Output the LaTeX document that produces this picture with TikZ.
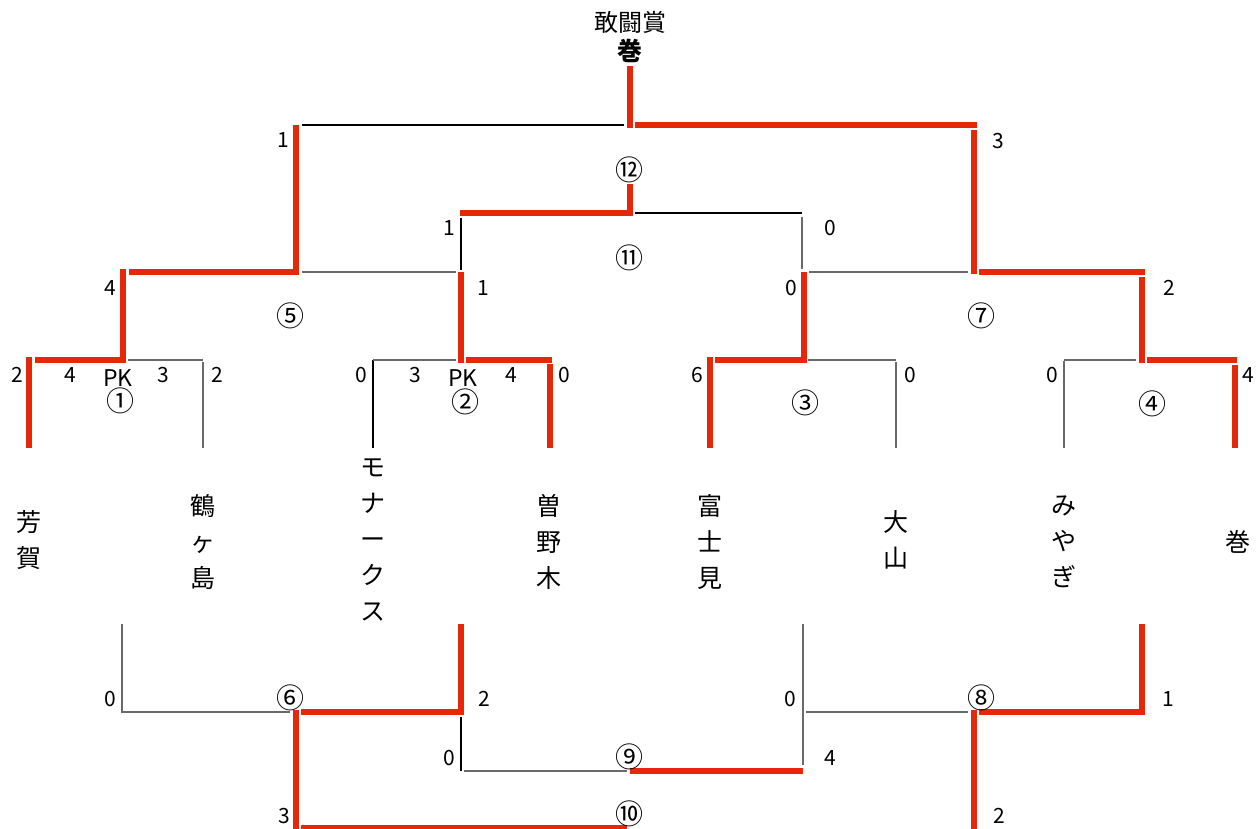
\documentclass[tikz,border=0pt]{standalone}
\usepackage{fontspec}
\setmainfont{Noto Sans CJK JP}
\definecolor{bred}{RGB}{232,38,10}
\definecolor{tgray}{RGB}{105,105,105}
\tikzset{
  win/.style={draw=bred,line width=6pt},
  thg/.style={draw=tgray,line width=1.4pt},
  thb/.style={draw=black,line width=1.2pt},
  sc/.style={font=\fontsize{21}{24}\selectfont,inner sep=0pt},
  pk/.style={font=\fontsize{23}{24}\selectfont,inner sep=0pt},
  mno/.style={font=\fontsize{28}{30}\selectfont,inner sep=0pt},
  team/.style={font=\fontsize{25}{36}\selectfont,align=center,inner sep=0pt},
}
\begin{document}
\begin{tikzpicture}[x=1pt,y=-1pt]
\useasboundingbox (0,0) rectangle (1258,829);
% champion
\node[font=\fontsize{24}{26}\selectfont,inner sep=0pt] (award) at (630,22) {敢闘賞};
\node[font=\fontsize{25}{26}\selectfont\bfseries,inner sep=0pt] (champ) at (630,51) {巻};
% teams
\node[team] (t1) at (29,540) {芳\\賀};
\node[team] (t2) at (203,542) {鶴\\ヶ\\島};
\node[team] (t3) at (373,540) {モ\\ナ\\ー\\ク\\ス};
\node[team] (t4) at (549,542) {曽\\野\\木};
\node[team] (t5) at (710,542) {富\\士\\見};
\node[team] (t6) at (896,540) {大\\山};
\node[team] (t7) at (1064,542) {み\\や\\ぎ};
\node[team] (t8) at (1238,542) {巻};
% thin lines
\draw[thb] (302,125) -- (624,125);
\draw[thb] (635,213) -- (802,213);
\draw[thg] (802,217) -- (802,269);
\draw[thb] (461,218) -- (461,270);
\draw[thg] (302,272) -- (456,272);
\draw[thg] (809,272) -- (968,272);
\draw[thg] (128,360) -- (203,360);
\draw[thg] (203,362) -- (203,448);
\draw[thb] (373,360) -- (373,448);
\draw[thg] (373,360) -- (456,360);
\draw[thg] (808,360) -- (896,360);
\draw[thg] (896,362) -- (896,448);
\draw[thg] (1064,361) -- (1064,448);
\draw[thg] (1064,360) -- (1136,360);
\draw[thg] (122,624) -- (122,712) -- (290,712);
\draw[thb] (461,717) -- (461,771);
\draw[thg] (464,771) -- (627,771);
\draw[thg] (803,624) -- (803,765);
\draw[thg] (806,712) -- (968,712);
% winner lines
\draw[win] (630,66) -- (630,128);
\draw[win] (635,125) -- (977,125);
\draw[win] (974,130) -- (974,274);
\draw[win] (29,357) -- (29,448);
\draw[win] (35,360) -- (123,360) -- (123,269);
\draw[win] (129,272) -- (296,272) -- (296,125);
\draw[win] (461,272) -- (461,363);
\draw[win] (466,360) -- (552,360);
\draw[win] (549.5,364) -- (549.5,448);
\draw[win] (460,213.5) -- (630,213.5) -- (630,184);
\draw[win] (710,357) -- (710,448);
\draw[win] (715,360) -- (803.5,360) -- (803.5,272);
\draw[win] (979,272) -- (1145,272);
\draw[win] (1142,277) -- (1142,363);
\draw[win] (1147,360) -- (1237,360);
\draw[win] (1234.5,365) -- (1234.5,448);
\draw[win] (301,712) -- (461,712) -- (461,624);
\draw[win] (296,710) -- (296,832);
\draw[win] (301,828) -- (627,828);
\draw[win] (630,771) -- (803,771);
\draw[win] (979,712) -- (1142,712) -- (1142,624);
\draw[win] (974,710) -- (974,832);
% upper labels
\node[sc] (s1) at (283,140) {1};
\node[sc] (s2) at (998,141) {3};
\node[mno] (m12) at (629,170) {⑫};
\node[sc] (s3) at (449,228) {1};
\node[sc] (s4) at (830,228) {0};
\node[mno] (m11) at (629,258) {⑪};
\node[sc] (s5) at (110,288) {4};
\node[sc] (s6) at (483,288) {1};
\node[sc] (s7) at (791,288) {0};
\node[sc] (s8) at (1169,288) {2};
\node[mno] (m5) at (290,316) {⑤};
\node[mno] (m7) at (981,316) {⑦};
% round 1 labels
\node[sc] (a1) at (17,375) {2};
\node[sc] (a2) at (70,375) {4};
\node[pk] (a3) at (118,378) {PK};
\node[sc] (a4) at (163,375) {3};
\node[sc] (a5) at (217,375) {2};
\node[mno] (m1) at (120,401) {①};
\node[sc] (b1) at (361,375) {0};
\node[sc] (b2) at (415,375) {3};
\node[pk] (b3) at (463,378) {PK};
\node[sc] (b4) at (511,375) {4};
\node[sc] (b5) at (564,375) {0};
\node[mno] (m2) at (465,402) {②};
\node[sc] (c1) at (697,375) {6};
\node[sc] (c2) at (910,375) {0};
\node[mno] (m3) at (805,403) {③};
\node[sc] (d1) at (1052,375) {0};
\node[sc] (d2) at (1248,375) {4};
\node[mno] (m4) at (1152,404) {④};
% lower labels
\node[sc] (e1) at (110,699) {0};
\node[mno] (m6) at (290,698) {⑥};
\node[sc] (e2) at (484,699) {2};
\node[sc] (e3) at (449,758) {0};
\node[mno] (m9) at (629,757) {⑨};
\node[sc] (e4) at (284,816) {3};
\node[mno] (m10) at (629,814) {⑩};
\node[sc] (f1) at (790,699) {0};
\node[mno] (m8) at (981,698) {⑧};
\node[sc] (f2) at (1168,699) {1};
\node[sc] (f3) at (830,758) {4};
\node[sc] (f4) at (999,816) {2};
\end{tikzpicture}
\end{document}
